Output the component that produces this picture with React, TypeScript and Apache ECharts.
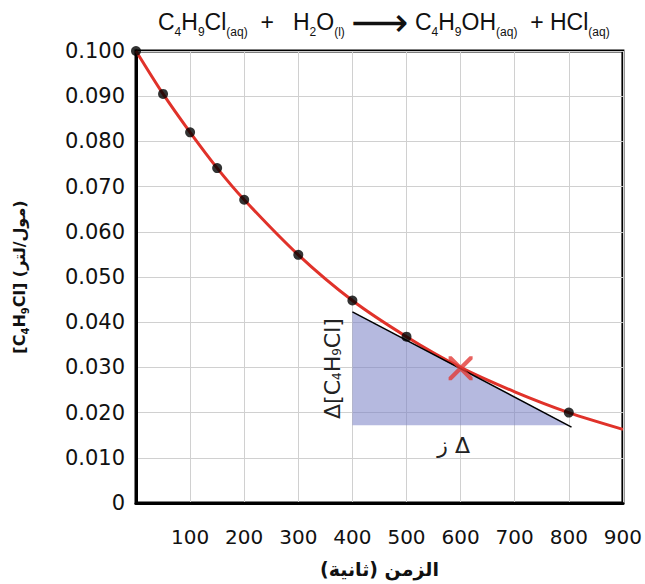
import React, { useEffect, useRef } from "react";
import * as echarts from "echarts";

// measured points (s, mol/L)
const timeS = [0, 50, 100, 150, 200, 300, 400, 500, 800];
const concM = [0.1, 0.0905, 0.082, 0.0741, 0.0671, 0.0549, 0.0448, 0.0368, 0.02];
// red fitted curve
const curveTime = [0, 50, 100, 150, 200, 300, 400, 500, 600, 700, 800, 900];
const curveConc = [0.1, 0.0905, 0.082, 0.0741, 0.0671, 0.0549, 0.0448, 0.0368, 0.03, 0.0246, 0.02, 0.0163];
// tangent line at t = 600
const tangentTime = [400, 805];
const tangentConc = [0.0423, 0.0168];
// shaded triangle
const triangleTime = [400, 400, 800];
const triangleConc = [0.0423, 0.0172, 0.0172];
// red cross marker
const markTime = [600];
const markConc = [0.0298];

const xTicks = { min: 0, max: 900, interval: 100 };
const yTicks = { min: 0, max: 0.1, interval: 0.01 };

const subStyle = (size: number) => ({
  fontSize: size,
  lineHeight: size + 2,
  verticalAlign: "bottom" as const,
});

export default function App() {
  const ref = useRef<HTMLDivElement>(null);
  useEffect(() => {
    if (!ref.current) return;
    const chart = echarts.init(ref.current, null, { renderer: "svg" });
    const font = "DejaVu Sans";
    const option: any = {
      animation: false,
      backgroundColor: "#fff",
      title: {
        text:
          "C{s|4}H{s|9}Cl{s|(aq)}  +   H{s|2}O{s|(l)} {a|⟶} C{s|4}H{s|9}OH{s|(aq)}  + HCl{s|(aq)}",
        left: 153,
        top: 1,
        textStyle: {
          fontFamily: "Liberation Sans",
          fontSize: 23,
          fontWeight: "normal",
          color: "#111",
          lineHeight: 32,
          rich: {
            s: { ...subStyle(12), fontFamily: "Liberation Sans", color: "#111" },
            a: { fontFamily: "DejaVu Sans", fontSize: 40, lineHeight: 32, color: "#111" },
          },
        },
      },
      grid: {
        left: 130,
        right: 15,
        top: 51,
        bottom: 81,
        show: true,
        borderColor: "#000",
        borderWidth: 3,
        containLabel: false,
      },
      xAxis: {
        type: "value",
        ...xTicks,
        name: "الزمن (ثانية)\u200F",
        nameLocation: "middle",
        nameGap: 56,
        nameTextStyle: { fontFamily: font, fontSize: 19, fontWeight: "bold", color: "#111" },
        axisLine: { show: true, lineStyle: { color: "#000", width: 3 } },
        axisTick: { show: false },
        splitLine: { show: true, lineStyle: { color: "#d0d0d0", width: 1 } },
        axisLabel: {
          fontFamily: font,
          fontSize: 20,
          color: "#111",
          margin: 24,
          formatter: (v: number) => (v === 0 ? "" : String(v)),
        },
      },
      yAxis: {
        type: "value",
        ...yTicks,
        name: "[C{s|4}H{s|9}Cl] (مول/لتر)",
        nameLocation: "middle",
        nameRotate: 90,
        nameGap: 106,
        nameTextStyle: {
          fontFamily: font,
          fontSize: 16,
          fontWeight: "bold",
          color: "#111",
          lineHeight: 22,
          rich: { s: { ...subStyle(10), fontFamily: font, fontWeight: "bold", color: "#111" } },
        },
        axisLine: { show: true, lineStyle: { color: "#000", width: 3 } },
        axisTick: { show: false },
        splitLine: { show: true, lineStyle: { color: "#d0d0d0", width: 1 } },
        axisLabel: {
          fontFamily: font,
          fontSize: 21,
          color: "#111",
          margin: 11,
          formatter: (v: number) => (v === 0 ? "0" : v.toFixed(3)),
        },
      },
      series: [
        {
          type: "custom",
          name: "triangle",
          z: 1,
          data: triangleTime.map((t, i) => [t, triangleConc[i]]),
          renderItem: (params: any, api: any) => {
            if (params.dataIndex !== 0) return null;
            const pts = triangleTime.map((t, i) => api.coord([t, triangleConc[i]]));
            const left = pts[0][0];
            const topY = pts[0][1];
            const botY = pts[1][1];
            const right = pts[2][0];
            return {
              type: "group",
              children: [
                {
                  type: "polygon",
                  shape: { points: pts },
                  style: { fill: "rgba(120,128,196,0.55)" },
                },
                {
                  type: "text",
                  x: left - 20,
                  y: (topY + botY) / 2,
                  rotation: Math.PI / 2,
                  style: {
                    text: "Δ[C{s|4}H{s|9}Cl]",
                    fontFamily: font,
                    fontSize: 22,
                    fill: "#222",
                    align: "center",
                    verticalAlign: "middle",
                    rich: { s: { fontSize: 12, lineHeight: 12, verticalAlign: "bottom", fontFamily: font, fill: "#222" } },
                  },
                },
                {
                  type: "text",
                  x: (left + right) / 2 - 7,
                  y: botY + 20,
                  style: {
                    text: "ز Δ",
                    fontFamily: font,
                    fontSize: 22,
                    fill: "#222",
                    align: "center",
                    verticalAlign: "middle",
                  },
                },
              ],
            };
          },
        },
        {
          type: "line",
          name: "curve",
          z: 3,
          data: curveTime.map((t, i) => [t, curveConc[i]]),
          smooth: 0.3,
          showSymbol: false,
          lineStyle: { color: "#e0322a", width: 3 },
        },
        {
          type: "line",
          name: "tangent",
          z: 4,
          data: tangentTime.map((t, i) => [t, tangentConc[i]]),
          showSymbol: false,
          lineStyle: { color: "#000", width: 1.5 },
        },
        {
          type: "scatter",
          name: "points",
          z: 5,
          data: timeS.map((t, i) => [t, concM[i]]),
          symbolSize: 10,
          itemStyle: { color: "#000" },
        },
        {
          type: "scatter",
          name: "mark",
          z: 6,
          data: markTime.map((t, i) => [t, markConc[i]]),
          symbol:
            "path://M0,0 L3,0 L12,9 L21,0 L24,0 L24,3 L15,12 L24,21 L24,24 L21,24 L12,15 L3,24 L0,24 L0,21 L9,12 L0,3 Z",
          symbolSize: 24,
          itemStyle: { color: "#e23a36" },
        },
      ],
    };
    chart.setOption(option);
    return () => chart.dispose();
  }, []);
  return <div ref={ref} style={{ width: 645, height: 584, position: "absolute", left: 0, top: 0 }} />;
}
